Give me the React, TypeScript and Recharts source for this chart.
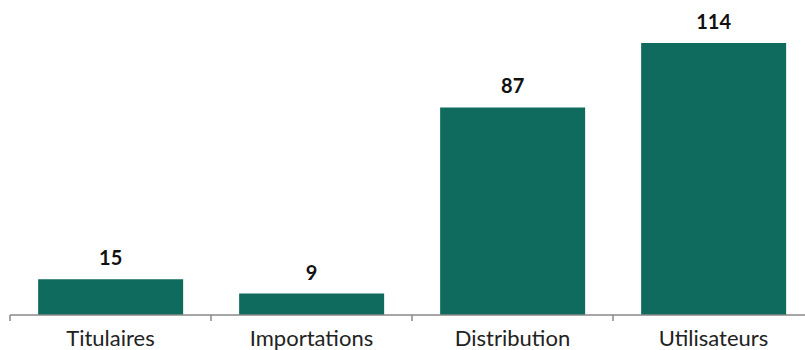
import React from 'react';
import { BarChart, Bar, XAxis, YAxis, LabelList } from 'recharts';

const categories = ['Titulaires', 'Importations', 'Distribution', 'Utilisateurs'];
const values = [15, 9, 87, 114];

const data = categories.map((name, i) => ({ name, value: values[i] }));

const FONT = 'Lato, "Open Sans", sans-serif';

const BoundaryTick = (props: any) => {
  const { x, y, payload, index, visibleTicksCount } = props;
  const half = payload && typeof payload.offset === 'number' && payload.offset > 0 ? payload.offset : 100.5;
  const isLast = index === (visibleTicksCount ?? categories.length) - 1;
  return (
    <g>
      <line x1={x - half} x2={x - half} y1={y} y2={y + 6} stroke="#888" strokeWidth={1.5} />
      {isLast && <line x1={x + half - 1} x2={x + half - 1} y1={y} y2={y + 6} stroke="#888" strokeWidth={1.5} />}
      <text x={x} y={y + 31} textAnchor="middle" fill="#222" fontSize={22} fontFamily={FONT}>
        {payload.value}
      </text>
    </g>
  );
};

export default function App() {
  return (
    <div style={{ position: 'absolute', left: 0, top: 0, width: 805, height: 350, overflow: 'hidden', background: '#fff' }}>
      <BarChart
        width={814}
        height={350}
        data={data}
        margin={{ top: 43, right: 0, left: 10, bottom: 0 }}
        barCategoryGap="14%"
      >
        <XAxis
          dataKey="name"
          height={35}
          axisLine={{ stroke: '#888', strokeWidth: 1.5 }}
          tickLine={false}
          tickSize={0}
          tickMargin={0}
          tick={<BoundaryTick />}
          interval={0}
        />
        <YAxis hide domain={[0, 114]} />
        <Bar dataKey="value" fill="#0f6b5e" isAnimationActive={false}>
          <LabelList
            dataKey="value"
            position="top"
            offset={14}
            fill="#111"
            fontSize={20}
            fontWeight={700}
            fontFamily={FONT}
          />
        </Bar>
      </BarChart>
    </div>
  );
}
